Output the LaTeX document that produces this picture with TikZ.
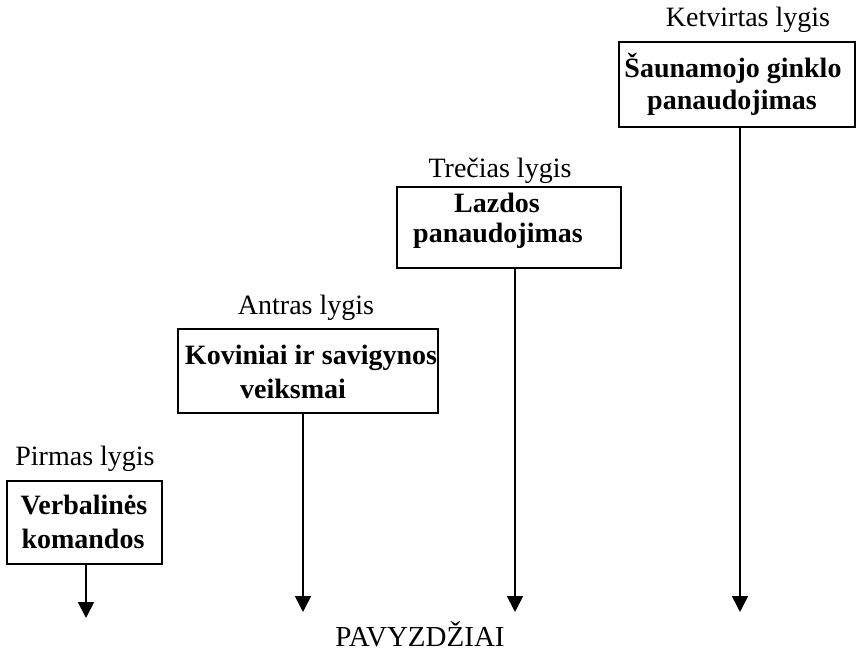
\documentclass[tikz,border=0pt]{standalone}
\usepackage{fontspec}
\setmainfont{Liberation Serif}
\usetikzlibrary{arrows.meta}
\tikzset{
  levelbox/.style={draw, line width=1.8pt, rectangle, inner sep=0pt},
  levellabel/.style={anchor=base, inner sep=0pt, font=\fontsize{28}{32}\selectfont},
  boxtext/.style={anchor=base, inner sep=0pt, font=\fontsize{28}{32}\selectfont\bfseries},
  arr/.style={line width=1.8pt, -{Triangle[width=16pt,length=16pt]}},
  bottomlabel/.style={anchor=base, inner sep=0pt, font=\fontsize{29}{33}\selectfont}
}
\begin{document}
\begin{tikzpicture}[x=1pt,y=-1pt]
\useasboundingbox (0,0) rectangle (857,652);
% boxes
\node[levelbox, minimum width=155pt, minimum height=83pt] (b1) at (84.5,522.5) {};
\node[levelbox, minimum width=260pt, minimum height=84pt] (b2) at (308,371) {};
\node[levelbox, minimum width=224pt, minimum height=81pt] (b3) at (509,227.5) {};
\node[levelbox, minimum width=236pt, minimum height=85pt] (b4) at (737,84.5) {};
% level labels
\node[levellabel] (l1) at (85,465) {Pirmas lygis};
\node[levellabel] (l2) at (306,315) {Antras lygis};
\node[levellabel] (l3) at (500,178) {Trečias lygis};
\node[levellabel] (l4) at (748,27) {Ketvirtas lygis};
% box texts
\node[boxtext] (t1a) at (84,514) {Verbalinės};
\node[boxtext] (t1b) at (83,548) {komandos};
\node[boxtext] (t2a) at (311,365) {Koviniai ir savigynos};
\node[boxtext] (t2b) at (293,398) {veiksmai};
\node[boxtext] (t3a) at (497,213) {Lazdos};
\node[boxtext] (t3b) at (498,243) {panaudojimas};
\node[boxtext] (t4a) at (733,78) {Šaunamojo ginklo};
\node[boxtext] (t4b) at (732,110) {panaudojimas};
% arrow tips
\coordinate (e1) at (86,618);
\coordinate (e2) at (303,612);
\coordinate (e3) at (515,612);
\coordinate (e4) at (740,612);
\draw[arr] (b1.south -| e1) -- (e1);
\draw[arr] (b2.south -| e2) -- (e2);
\draw[arr] (b3.south -| e3) -- (e3);
\draw[arr] (b4.south -| e4) -- (e4);
% bottom label
\node[bottomlabel] (ex) at (420,646) {PAVYZDŽIAI};
\end{tikzpicture}
\end{document}
